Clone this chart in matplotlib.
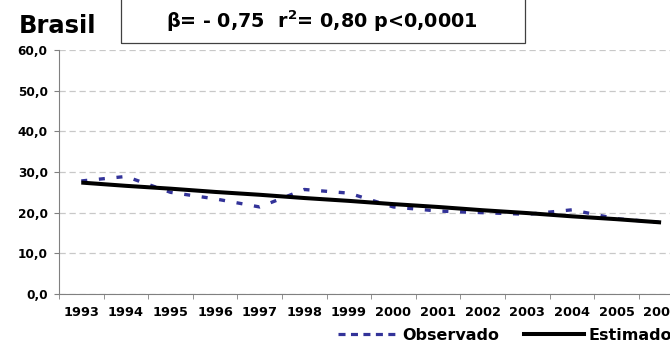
import numpy as np
import matplotlib
matplotlib.use("Agg")
import matplotlib.pyplot as plt
from matplotlib.patches import Rectangle
from matplotlib.lines import Line2D

plt.rcParams['font.family'] = ['DejaVu Sans']

# dados
anos = ['1993', '1994', '1995', '1996', '1997', '1998', '1999',
        '2000', '2001', '2002', '2003', '2004', '2005', '2006']
observado = [27.8, 28.9, 25.0, 23.4, 21.4, 25.7, 24.8,
             21.4, 20.4, 20.0, 19.6, 20.7, 18.5, 17.6]
estimado = [27.4, 26.6, 25.9, 25.1, 24.4, 23.6, 22.9,
            22.1, 21.4, 20.6, 19.9, 19.1, 18.4, 17.6]
yticks = [0, 10, 20, 30, 40, 50, 60]

azul = '#333399'

fig = plt.figure(figsize=(6.7, 3.52), dpi=100)
ax = fig.add_axes([59/670, 58/352, 14*44.6/670, 244/352])

x = np.arange(len(anos))
ax.plot(x, observado, color=azul, lw=2.4, dashes=(1.8, 3.5), zorder=3)
ax.plot(x, estimado, color='black', lw=2.9, solid_capstyle='butt', zorder=4)

ax.set_xlim(-0.5, len(anos) - 0.5)
ax.set_ylim(0, 60)
ax.set_yticks(yticks)
ax.set_yticklabels([('%.1f' % v).replace('.', ',') for v in yticks])
ax.yaxis.grid(True, color='#c8c8c8', ls=(0, (5, 3)), lw=0.9)
ax.set_axisbelow(True)

ax.set_xticks(x)
ax.set_xticklabels(anos)
ax.set_xticks(np.arange(-0.5, len(anos)), minor=True)
ax.tick_params(axis='x', which='major', length=0, pad=8.5)
ax.tick_params(axis='x', which='minor', length=3.6, color='#808080', direction='out')
ax.tick_params(axis='y', length=3.6, color='#808080', pad=4.5)
for lab in ax.get_xticklabels():
    lab.set_fontweight('bold')
    lab.set_fontsize(9.3)
for lab in ax.get_yticklabels():
    lab.set_fontweight('bold')
    lab.set_fontsize(8.7)

for s in ['top', 'right']:
    ax.spines[s].set_visible(False)
ax.spines['left'].set_color('#808080')
ax.spines['bottom'].set_color('#808080')

fig.text(19/670, 1 - 33/352, 'Brasil', fontsize=17.5, fontweight='bold',
         va='baseline', ha='left')
fig.patches.append(Rectangle((121/670, 1 - 43/352), 404/670, 50/352,
                             transform=fig.transFigure, fill=False,
                             edgecolor='#404040', lw=0.9))
fig.text(322/670, 1 - 28/352, r'β= - 0,75  r$^\mathbf{2}$= 0,80 p<0,0001',
         fontsize=13.8, fontweight='bold', va='baseline', ha='center')

h_obs = Line2D([], [], color=azul, lw=2.3, dashes=(2.2, 1.7))
h_est = Line2D([], [], color='black', lw=2.9)
fig.legend(handles=[h_obs, h_est], labels=['Observado', 'Estimado'],
           loc='center left', bbox_to_anchor=(338/670, 1 - 335/352),
           ncol=2, frameon=False, borderpad=0, borderaxespad=0,
           handlelength=3.8, handletextpad=0.25, columnspacing=1.5,
           prop={'weight': 'bold', 'size': 11.5})

fig.savefig('out.png', dpi=100)
